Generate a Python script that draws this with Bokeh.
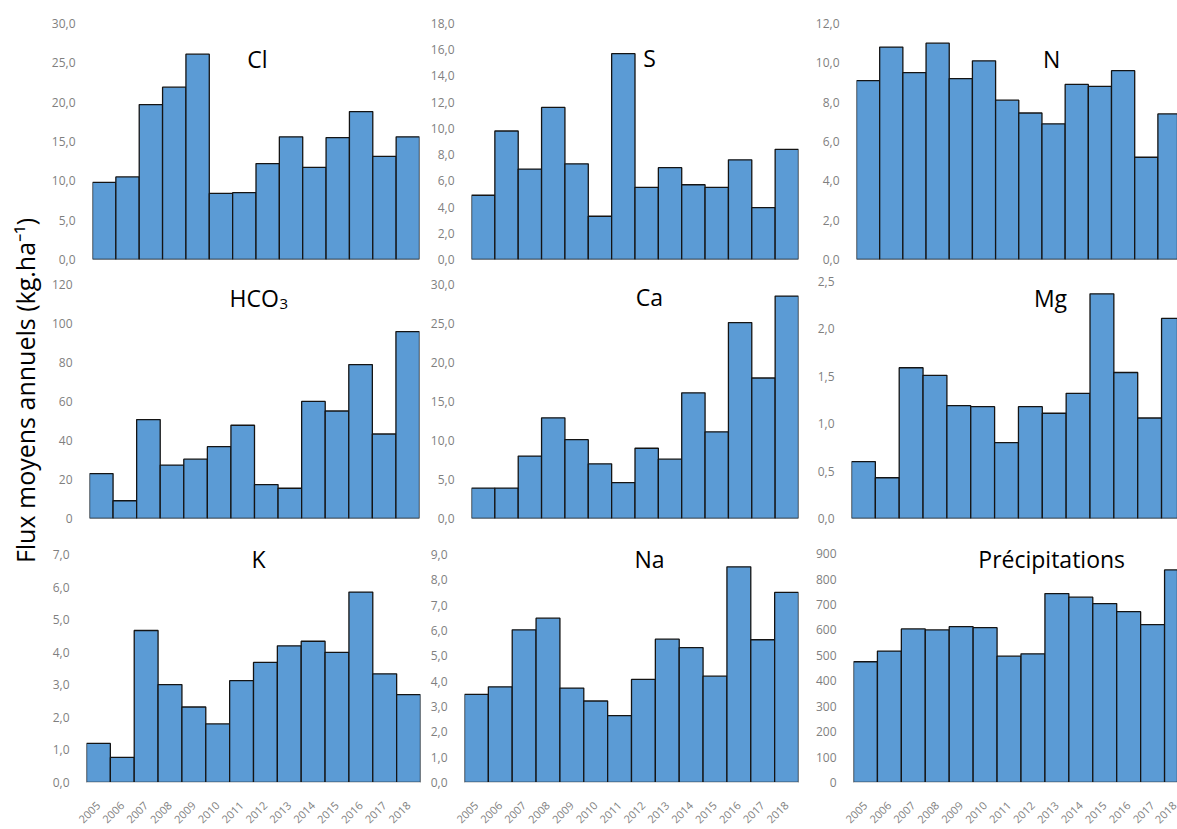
import math
from bokeh.plotting import figure
from bokeh.layouts import row, column
from bokeh.models import Range1d, FixedTicker, CustomJSTickFormatter, Label
from bokeh.embed import file_html
from bokeh.resources import INLINE

# ---------------- data ----------------
years = [2005, 2006, 2007, 2008, 2009, 2010, 2011, 2012, 2013, 2014, 2015, 2016, 2017, 2018]

cl_vals = [9.8, 10.5, 19.7, 21.9, 26.1, 8.4, 8.5, 12.2, 15.6, 11.7, 15.5, 18.8, 13.1, 15.6]
s_vals = [4.9, 9.8, 6.9, 11.6, 7.3, 3.3, 15.7, 5.5, 7.0, 5.7, 5.5, 7.6, 3.95, 8.4]
n_vals = [9.1, 10.8, 9.5, 11.0, 9.2, 10.1, 8.1, 7.45, 6.9, 8.9, 8.8, 9.6, 5.2, 7.4]
hco3_vals = [23.0, 9.1, 50.7, 27.4, 30.4, 36.8, 47.8, 17.4, 15.5, 60.0, 55.1, 78.9, 43.3, 95.8]
ca_vals = [3.9, 3.9, 8.0, 12.9, 10.1, 7.0, 4.6, 9.0, 7.6, 16.1, 11.1, 25.1, 18.0, 28.5]
mg_vals = [0.60, 0.43, 1.59, 1.51, 1.19, 1.18, 0.80, 1.18, 1.11, 1.32, 2.37, 1.54, 1.06, 2.11]
k_vals = [1.20, 0.77, 4.67, 3.01, 2.32, 1.80, 3.13, 3.69, 4.20, 4.34, 4.00, 5.85, 3.34, 2.70]
na_vals = [3.48, 3.78, 6.03, 6.49, 3.73, 3.22, 2.64, 4.07, 5.66, 5.33, 4.20, 8.52, 5.64, 7.51]
precip_vals = [475, 517, 604, 600, 613, 609, 497, 506, 743, 729, 704, 672, 621, 836]

cl_ticks = [0, 5, 10, 15, 20, 25, 30]
s_ticks = [0, 2, 4, 6, 8, 10, 12, 14, 16, 18]
n_ticks = [0, 2, 4, 6, 8, 10, 12]
hco3_ticks = [0, 20, 40, 60, 80, 100, 120]
ca_ticks = [0, 5, 10, 15, 20, 25, 30]
mg_ticks = [0, 0.5, 1.0, 1.5, 2.0, 2.5]
k_ticks = [0, 1, 2, 3, 4, 5, 6, 7]
na_ticks = [0, 1, 2, 3, 4, 5, 6, 7, 8, 9]
precip_ticks = [0, 100, 200, 300, 400, 500, 600, 700, 800, 900]

titles = ["Cl", "S", "N", "HCO", "Ca", "Mg", "K", "Na", "Précipitations"]
y_title = "Flux moyens annuels (kg.ha⁻¹)"

# ---------------- layout / style ----------------
FONT = "Open Sans"
BAR = "#5B9BD5"
EDGE = "#141414"
TICK_COL = "#7f7f7f"
BASE_FIX = 9  # rendered text sits lower than the requested alphabetic baseline

TITLE_W = 48
COLS = [(48, 426), (426, 812), (812, 1177)]
ROWS = [(0, 270), (270, 530), (530, 829)]

# scale geometry (left, top-tick, right, baseline) in page pixels, px per bar for clipped panels
FRAMES = [
    (92, 23, 419, 259, None), (471, 23, 798, 259, None), (853, 23, 1177, 259, 23.4),
    (89, 284, 419, 521, None), (471, 284, 798, 521, None), (851, 281, 1177, 518, 23.85),
    (86, 555, 420, 791, None), (464, 555, 798, 791, None), (850, 554, 1177, 791, 24.15),
]
TITLE_POS = [(257, 67), (649, 66), (1050, 67),
             (229, 306.5), (649, 306), (1050, 306),
             (258, 568), (649, 568), (1050, 568)]

panels = [
    (cl_vals, cl_ticks, 1), (s_vals, s_ticks, 1), (n_vals, n_ticks, 1),
    (hco3_vals, hco3_ticks, 0), (ca_vals, ca_ticks, 1), (mg_vals, mg_ticks, 1),
    (k_vals, k_ticks, 1), (na_vals, na_ticks, 1), (precip_vals, precip_ticks, 0),
]


def make_panel(i):
    vals, ticks, dec = panels[i]
    r, c = divmod(i, 3)
    fx0, fx1 = COLS[c]
    fy0, fy1 = ROWS[r]
    L, T, R, B, bpx = FRAMES[i]
    x0 = years[0] - 0.5
    x1 = years[-1] + 0.5 if bpx is None else x0 + (R - L) / bpx
    ymax = ticks[-1]
    ftop = fy0 + 1  # frame reaches nearly to the canvas top so titles are not clipped
    yend = ymax * (B - ftop) / (B - T)
    p = figure(width=fx1 - fx0, height=fy1 - fy0,
               x_range=Range1d(x0, x1), y_range=Range1d(0, yend),
               output_backend="svg", toolbar_location=None,
               min_border_left=L - fx0, min_border_right=fx1 - R,
               min_border_top=ftop - fy0, min_border_bottom=fy1 - B)
    p.outline_line_color = None
    p.grid.visible = False
    p.background_fill_color = "white"
    p.border_fill_color = "white"

    p.vbar(x=years, top=vals, bottom=0, width=1.0,
           fill_color=BAR, line_color=EDGE, line_width=1.3)

    ya = p.yaxis[0]
    ya.ticker = FixedTicker(ticks=ticks)
    ya.formatter = CustomJSTickFormatter(code="return tick.toFixed(%d).replace('.', ',');" % dec)
    ya.axis_line_color = None
    ya.major_tick_line_color = None
    ya.minor_tick_line_color = None
    ya.major_label_standoff = 11
    ya.major_label_text_font = FONT
    ya.major_label_text_font_size = "12px"
    ya.major_label_text_color = TICK_COL

    xa = p.xaxis[0]
    if r < 2:
        xa.visible = False
    else:
        xa.ticker = FixedTicker(ticks=years)
        xa.formatter = CustomJSTickFormatter(code="return tick.toFixed(0);")
        xa.axis_line_color = "#d9d9d9"
        xa.major_tick_line_color = None
        xa.minor_tick_line_color = None
        xa.major_label_orientation = math.pi / 4
        xa.major_label_standoff = 15
        xa.major_label_text_font = FONT
        xa.major_label_text_font_size = "11px"
        xa.major_label_text_color = TICK_COL

    def to_data(px, py):
        dx = x0 + (px - L) / (R - L) * (x1 - x0)
        dy = (B - (py - BASE_FIX)) / (B - T) * ymax
        return dx, dy

    tx, ty = TITLE_POS[i]
    if i == 3:
        dx, dy = to_data(tx, ty)
        p.add_layout(Label(x=dx, y=dy, text=titles[i], text_align="left",
                           text_baseline="alphabetic", text_font=FONT,
                           text_font_size="23px", text_color="black"))
        dx, dy = to_data(279, 312.5)
        p.add_layout(Label(x=dx, y=dy, text="3", text_align="left",
                           text_baseline="alphabetic", text_font=FONT,
                           text_font_size="15px", text_color="black"))
    else:
        dx, dy = to_data(tx, ty)
        p.add_layout(Label(x=dx, y=dy, text=titles[i], text_align="center",
                           text_baseline="alphabetic", text_font=FONT,
                           text_font_size="23px", text_color="black"))
    return p


figs = [make_panel(i) for i in range(9)]

# y-axis title strip
H = ROWS[-1][1]
tfig = figure(width=TITLE_W, height=H, x_range=Range1d(0, TITLE_W), y_range=Range1d(0, H),
              x_axis_type=None, y_axis_type=None,
              output_backend="svg", toolbar_location=None,
              min_border_left=0, min_border_right=0, min_border_top=0, min_border_bottom=0)
tfig.outline_line_color = None
tfig.grid.visible = False
tfig.add_layout(Label(x=33 - BASE_FIX, y=H - 390, text=y_title, angle=math.pi / 2,
                      text_align="center", text_baseline="alphabetic",
                      text_font=FONT, text_font_size="25px", text_color="black"))

grid = column(row(figs[0], figs[1], figs[2]),
              row(figs[3], figs[4], figs[5]),
              row(figs[6], figs[7], figs[8]))
layout = row(tfig, grid)

open("out.html", "w").write(file_html(layout, INLINE))
